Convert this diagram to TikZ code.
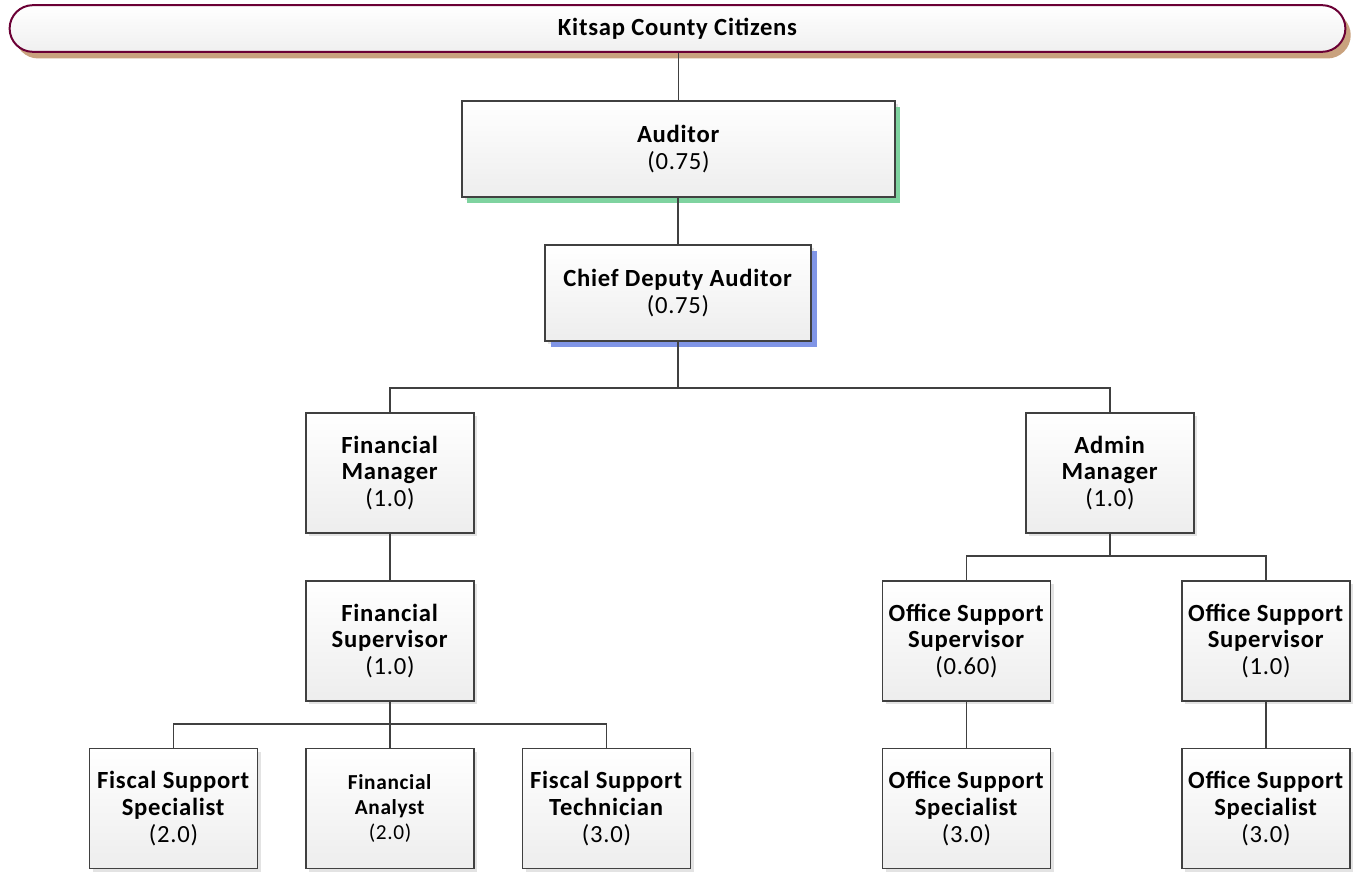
\documentclass[tikz,border=0pt]{standalone}
\usepackage{fontspec}
\setmainfont{Carlito}[LetterSpace=3]
\usepackage{tikz}
\usetikzlibrary{shapes.misc}
\usetikzlibrary{shadows}
\definecolor{boxline}{HTML}{404040}
\definecolor{maroon}{HTML}{6B0035}
\definecolor{tanshade}{HTML}{C9A27E}
\definecolor{greenshade}{HTML}{7FD3A0}
\definecolor{blueshade}{HTML}{8095E6}
\tikzset{post/.style = {rectangle,draw=boxline,line width=1.4pt,top color=white,bottom color=black!7,align=center,minimum width=126pt,minimum height=90pt,inner sep=1pt,font=\fontsize{18.5}{20}\selectfont,drop shadow={opacity=0.22,shadow xshift=2.5pt,shadow yshift=-2.5pt}}}
\tikzset{citizens/.style = {rounded rectangle,draw=maroon,line width=1.5pt,top color=white,bottom color=black!6,minimum width=1008.5pt,minimum height=35pt,font=\fontsize{18.5}{20}\selectfont\bfseries,drop shadow={fill=tanshade,opacity=1,shadow xshift=4pt,shadow yshift=-5pt}}}
\tikzset{edge/.style = {draw=boxline,line width=1.4pt}}

\begin{document}
\begin{tikzpicture}[x=0.75pt,y=-0.75pt]
            \useasboundingbox (0,0) rectangle (1355,877);

            \node[citizens] (kc) at (677.5,28.5) {Kitsap County Citizens};
            \node[post,minimum width=324.75pt,minimum height=72pt,drop shadow={fill=greenshade,opacity=1,shadow xshift=4pt,shadow yshift=-4.5pt}] (aud) at (678.5,149) {\textbf{Auditor}\\(0.75)};
            \node[post,minimum width=199.5pt,minimum height=72pt,drop shadow={fill=blueshade,opacity=1,shadow xshift=4.5pt,shadow yshift=-4.5pt}] (cda) at (678,293) {\textbf{Chief Deputy Auditor}\\(0.75)};

            \node[post] (fm) at (390,473) {\textbf{Financial}\\\textbf{Manager}\\(1.0)};
            \node[post] (fs) at (390,641) {\textbf{Financial}\\\textbf{Supervisor}\\(1.0)};
            \node[post] (fss) at (173.5,808.5) {\textbf{Fiscal Support}\\\textbf{Specialist}\\(2.0)};
            \node[post,font=\fontsize{16}{19}\selectfont] (fa) at (390,808.5) {\textbf{Financial}\\\textbf{Analyst}\\(2.0)};
            \node[post] (fst) at (606.5,808.5) {\textbf{Fiscal Support}\\\textbf{Technician}\\(3.0)};

            \node[post] (am) at (1110,473) {\textbf{Admin}\\\textbf{Manager}\\(1.0)};
            \node[post] (oss1) at (966.5,641) {\textbf{Office Support}\\\textbf{Supervisor}\\(0.60)};
            \node[post] (oss2) at (1266,641) {\textbf{Office Support}\\\textbf{Supervisor}\\(1.0)};
            \node[post] (osp1) at (966.5,808.5) {\textbf{Office Support}\\\textbf{Specialist}\\(3.0)};
            \node[post] (osp2) at (1266,808.5) {\textbf{Office Support}\\\textbf{Specialist}\\(3.0)};

            \coordinate (mainbus) at (678,388);
            \coordinate (finbus) at (390,724);
            \coordinate (admbus) at (1110,556);

            \draw[edge] (kc.south -| aud.north) -- (aud.north);
            \draw[edge] (aud.south -| cda.north) -- (cda.north);
            \draw[edge] (cda.south) -- (mainbus) -| (fm.north);
            \draw[edge] (mainbus) -| (am.north);

            \draw[edge] (fm) -- (fs);
            \draw[edge] (fs.south) -- (finbus) -| (fss.north);
            \draw[edge] (finbus) -- (fa.north);
            \draw[edge] (finbus) -| (fst.north);

            \draw[edge] (am.south) -- (admbus) -| (oss1.north);
            \draw[edge] (admbus) -| (oss2.north);
            \draw[edge] (oss1) -- (osp1);
            \draw[edge] (oss2) -- (osp2);
\end{tikzpicture}
\end{document}
